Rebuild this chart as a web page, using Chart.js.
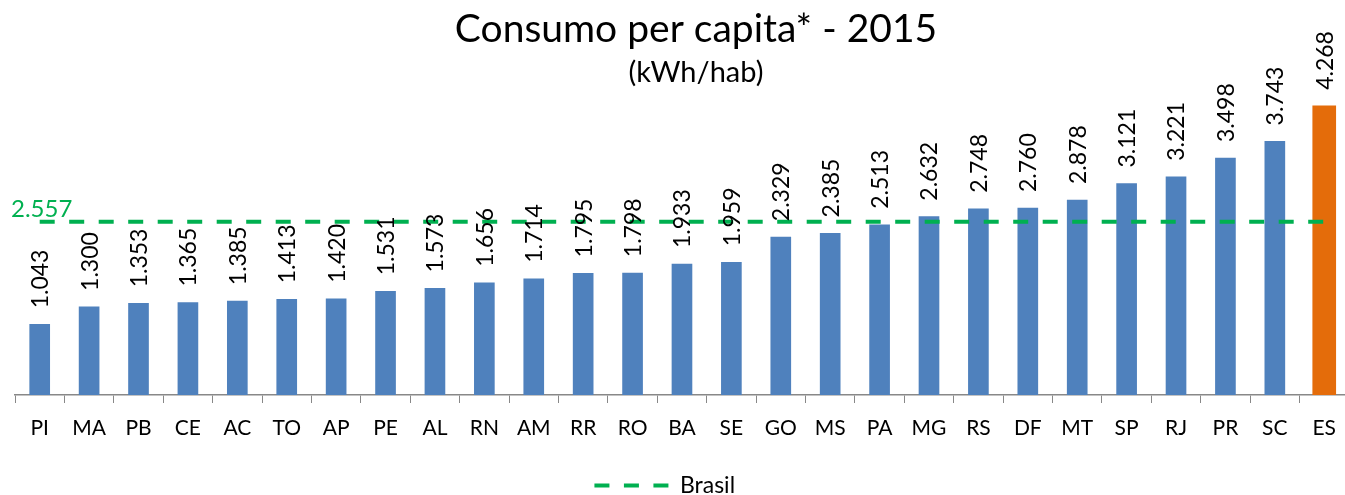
<!DOCTYPE html>
<html>
<head>
<meta charset="utf-8">
<script src="https://cdn.jsdelivr.net/npm/chart.js@4.4.1/dist/chart.umd.min.js"></script>
<style>
  html, body { margin: 0; padding: 0; background: #fff; overflow: hidden; }
  #wrap { width: 1349px; height: 495px; }
</style>
</head>
<body>
<div id="wrap"><canvas id="consumo" width="1349" height="495"></canvas></div>
<script>
// dados
const estados = ["PI", "MA", "PB", "CE", "AC", "TO", "AP", "PE", "AL", "RN", "AM", "RR", "RO", "BA",
  "SE", "GO", "MS", "PA", "MG", "RS", "DF", "MT", "SP", "RJ", "PR", "SC", "ES"];
const consumo = [1.043, 1.300, 1.353, 1.365, 1.385, 1.413, 1.420, 1.531, 1.573, 1.656, 1.714, 1.795, 1.798, 1.933,
  1.959, 2.329, 2.385, 2.513, 2.632, 2.748, 2.760, 2.878, 3.121, 3.221, 3.498, 3.743, 4.268];
const brasil = 2.557;
const destaque = "ES";

const brasilLine = estados.map(() => brasil);
const azul = consumo.map((v, i) => (estados[i] === destaque ? null : v));
const laranja = consumo.map((v, i) => (estados[i] === destaque ? v : null));

const VERDE = "#00B050";
const TRACO = [15, 14.5];

const fmt = (v) => v.toFixed(3);

Chart.defaults.font.family = "Lato, 'Open Sans', sans-serif";
Chart.defaults.color = "#000";

// titulo e rotulos
const extras = {
  id: "extras",
  afterDraw(chart) {
    const ctx = chart.ctx;
    ctx.save();
    ctx.fillStyle = "#000";
    ctx.textAlign = "center";
    ctx.textBaseline = "alphabetic";
    ctx.font = "39px Lato";
    ctx.fillText("Consumo per capita* - 2015", 696, 42);
    ctx.font = "29px Lato";
    ctx.fillText("(kWh/hab)", 696, 82);

    // valor Brasil
    const yB = chart.scales.y.getPixelForValue(brasil);
    ctx.fillStyle = VERDE;
    ctx.textAlign = "left";
    ctx.font = "24px Lato";
    ctx.fillText(brasil.toFixed(3), 11, yB - 5);

    // valores nas barras
    ctx.fillStyle = "#000";
    ctx.textBaseline = "middle";
    ctx.font = "23px Lato";
    [0, 1].forEach((di) => {
      const meta = chart.getDatasetMeta(di);
      meta.data.forEach((bar, i) => {
        const v = chart.data.datasets[di].data[i];
        if (v == null) return;
        ctx.save();
        ctx.translate(bar.x + 1, bar.y - 16);
        ctx.rotate(-Math.PI / 2);
        ctx.fillText(fmt(v), 0, 0);
        ctx.restore();
      });
    });
    ctx.restore();
  }
};

new Chart(document.getElementById("consumo"), {
  type: "bar",
  data: {
    labels: estados,
    datasets: [
      {
        label: "Consumo",
        data: azul,
        backgroundColor: "#4F81BD",
        barThickness: 20,
        order: 2
      },
      {
        label: "Consumo ES",
        data: laranja,
        backgroundColor: "#E46C0A",
        barThickness: 23,
        order: 3
      },
      {
        type: "line",
        label: "Brasil",
        data: brasilLine,
        borderColor: VERDE,
        backgroundColor: VERDE,
        borderWidth: 4,
        borderDash: TRACO,
        pointRadius: 0,
        fill: false,
        order: 1
      }
    ]
  },
  options: {
    responsive: false,
    animation: false,
    datasets: { bar: { grouped: false } },
    layout: { padding: { left: 15, right: 0, top: 0, bottom: -12 } },
    scales: {
      x: {
        grid: {
          display: true,
          drawOnChartArea: false,
          color: "#888",
          tickLength: 8,
          offset: true
        },
        border: { color: "#888", width: 1.5 },
        ticks: { font: { size: 21 }, color: "#000", padding: 13, maxRotation: 0, autoSkip: false },
        afterFit: (scale) => { scale.height = 73; }
      },
      y: {
        display: false,
        min: 0,
        max: 5.83
      }
    },
    plugins: {
      title: { display: false },
      tooltip: { enabled: false },
      legend: {
        position: "bottom",
        labels: {
          filter: (item) => item.text.trim() === "Brasil",
          generateLabels: (chart) =>
            Chart.defaults.plugins.legend.labels.generateLabels(chart).map((item) => ({
              ...item,
              text: item.text + "\u2003\u2003",
              lineDash: TRACO,
              lineWidth: 4,
              strokeStyle: VERDE,
              pointStyle: "line"
            })),
          usePointStyle: true,
          pointStyle: "line",
          pointStyleWidth: 74,
          font: { size: 23 },
          color: "#000",
          padding: 6
        }
      }
    }
  },
  plugins: [extras]
});
</script>
</body>
</html>
